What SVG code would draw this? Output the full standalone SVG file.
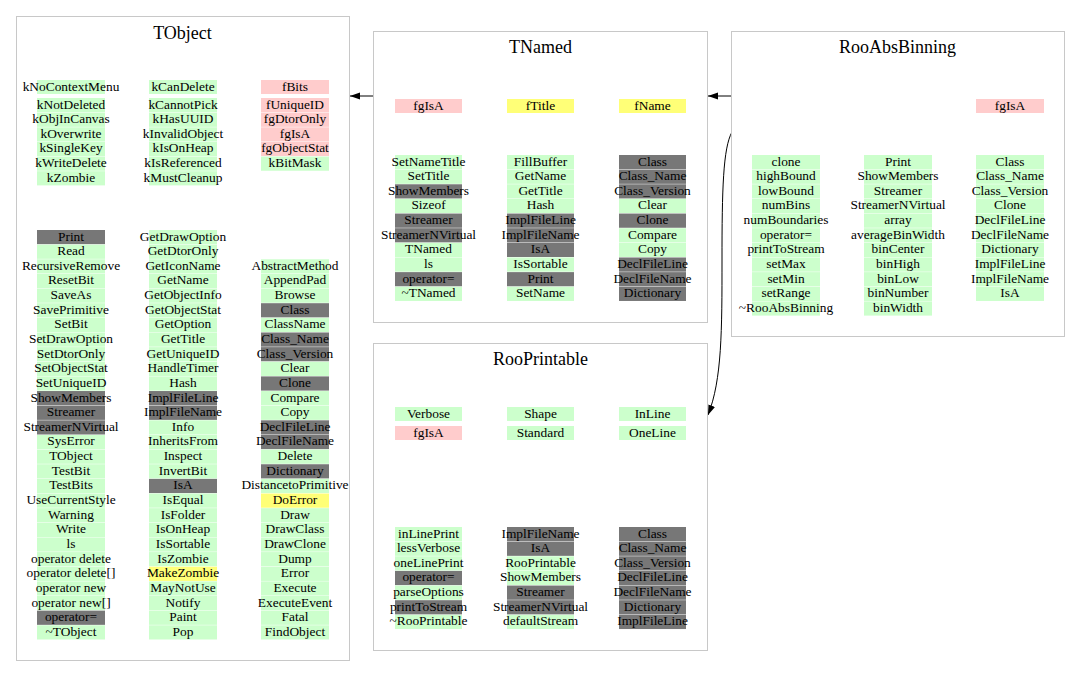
<svg xmlns="http://www.w3.org/2000/svg" width="1080" height="687" viewBox="0 0 1080 687">
<style>
.box{fill:#fff;stroke:#c8c8c8;stroke-width:1}
.g{fill:#ccffcc}.d{fill:#777777}.p{fill:#ffcccc}.y{fill:#ffff77}
text{font-family:"Liberation Serif","Times New Roman",serif;font-size:13.4px;fill:#000;text-anchor:middle}
.title{font-size:18px}
.edge{fill:none;stroke:#000;stroke-width:1}
</style>
<defs>
<marker id="ah" markerUnits="userSpaceOnUse" markerWidth="11" markerHeight="8" refX="10" refY="3.5" orient="auto">
<path d="M0,0 L10,3.5 L0,7 z" fill="#000"/>
</marker>
</defs>
<rect width="1080" height="687" fill="#fff"/>

<g id="connectors">
<line class="edge" x1="373" y1="96" x2="350" y2="96" marker-end="url(#ah)"/>
<line class="edge" x1="731" y1="96" x2="708" y2="96" marker-end="url(#ah)"/>
<path class="edge" d="M732,132 C723,148 722,190 722,260 C722,330 722,380 708,415" marker-end="url(#ah)"/>
</g>

<g id="TObject">
<rect class="box" x="16.5" y="16.5" width="333" height="644"/>
<text class="title" x="182.5" y="39">TObject</text>
<g transform="translate(37,80)">
<rect class="g" x="0" y="0" width="68" height="14"/><text x="34" y="11">kNoContextMenu</text>
<rect class="g" x="112" y="0" width="68" height="14"/><text x="146" y="11">kCanDelete</text>
<rect class="p" x="224" y="0" width="68" height="14"/><text x="258" y="11">fBits</text>
</g>
<g transform="translate(37,98)">
<rect class="g" x="0" y="0" width="68" height="14.2"/><text x="34" y="10.5">kNotDeleted</text>
<rect class="g" x="0" y="14.64" width="68" height="14.2"/><text x="34" y="25.14">kObjInCanvas</text>
<rect class="g" x="0" y="29.28" width="68" height="14.2"/><text x="34" y="39.78">kOverwrite</text>
<rect class="g" x="0" y="43.92" width="68" height="14.2"/><text x="34" y="54.42">kSingleKey</text>
<rect class="g" x="0" y="58.56" width="68" height="14.2"/><text x="34" y="69.06">kWriteDelete</text>
<rect class="g" x="0" y="73.2" width="68" height="14.2"/><text x="34" y="83.7">kZombie</text>
</g>
<g transform="translate(149,98)">
<rect class="g" x="0" y="0" width="68" height="14.2"/><text x="34" y="10.5">kCannotPick</text>
<rect class="g" x="0" y="14.64" width="68" height="14.2"/><text x="34" y="25.14">kHasUUID</text>
<rect class="g" x="0" y="29.28" width="68" height="14.2"/><text x="34" y="39.78">kInvalidObject</text>
<rect class="g" x="0" y="43.92" width="68" height="14.2"/><text x="34" y="54.42">kIsOnHeap</text>
<rect class="g" x="0" y="58.56" width="68" height="14.2"/><text x="34" y="69.06">kIsReferenced</text>
<rect class="g" x="0" y="73.2" width="68" height="14.2"/><text x="34" y="83.7">kMustCleanup</text>
</g>
<g transform="translate(261,98)">
<rect class="p" x="0" y="0" width="68" height="14.2"/><text x="34" y="10.5">fUniqueID</text>
<rect class="p" x="0" y="14.64" width="68" height="14.2"/><text x="34" y="25.14">fgDtorOnly</text>
<rect class="p" x="0" y="29.28" width="68" height="14.2"/><text x="34" y="39.78">fgIsA</text>
<rect class="p" x="0" y="43.92" width="68" height="14.2"/><text x="34" y="54.42">fgObjectStat</text>
<rect class="g" x="0" y="58.56" width="68" height="14.2"/><text x="34" y="69.06">kBitMask</text>
</g>
<g transform="translate(37,230)">
<rect class="d" x="0" y="0" width="68" height="14.2"/><text x="34" y="10.5">Print</text>
<rect class="g" x="0" y="14.64" width="68" height="14.2"/><text x="34" y="25.14">Read</text>
<rect class="g" x="0" y="29.28" width="68" height="14.2"/><text x="34" y="39.78">RecursiveRemove</text>
<rect class="g" x="0" y="43.92" width="68" height="14.2"/><text x="34" y="54.42">ResetBit</text>
<rect class="g" x="0" y="58.56" width="68" height="14.2"/><text x="34" y="69.06">SaveAs</text>
<rect class="g" x="0" y="73.2" width="68" height="14.2"/><text x="34" y="83.7">SavePrimitive</text>
<rect class="g" x="0" y="87.84" width="68" height="14.2"/><text x="34" y="98.34">SetBit</text>
<rect class="g" x="0" y="102.48" width="68" height="14.2"/><text x="34" y="112.98">SetDrawOption</text>
<rect class="g" x="0" y="117.12" width="68" height="14.2"/><text x="34" y="127.62">SetDtorOnly</text>
<rect class="g" x="0" y="131.76" width="68" height="14.2"/><text x="34" y="142.26">SetObjectStat</text>
<rect class="g" x="0" y="146.4" width="68" height="14.2"/><text x="34" y="156.9">SetUniqueID</text>
<rect class="d" x="0" y="161.04" width="68" height="14.2"/><text x="34" y="171.54">ShowMembers</text>
<rect class="d" x="0" y="175.68" width="68" height="14.2"/><text x="34" y="186.18">Streamer</text>
<rect class="d" x="0" y="190.32" width="68" height="14.2"/><text x="34" y="200.82">StreamerNVirtual</text>
<rect class="g" x="0" y="204.96" width="68" height="14.2"/><text x="34" y="215.46">SysError</text>
<rect class="g" x="0" y="219.6" width="68" height="14.2"/><text x="34" y="230.1">TObject</text>
<rect class="g" x="0" y="234.24" width="68" height="14.2"/><text x="34" y="244.74">TestBit</text>
<rect class="g" x="0" y="248.88" width="68" height="14.2"/><text x="34" y="259.38">TestBits</text>
<rect class="g" x="0" y="263.52" width="68" height="14.2"/><text x="34" y="274.02">UseCurrentStyle</text>
<rect class="g" x="0" y="278.16" width="68" height="14.2"/><text x="34" y="288.66">Warning</text>
<rect class="g" x="0" y="292.8" width="68" height="14.2"/><text x="34" y="303.3">Write</text>
<rect class="g" x="0" y="307.44" width="68" height="14.2"/><text x="34" y="317.94">ls</text>
<rect class="g" x="0" y="322.08" width="68" height="14.2"/><text x="34" y="332.58">operator delete</text>
<rect class="g" x="0" y="336.72" width="68" height="14.2"/><text x="34" y="347.22">operator delete[]</text>
<rect class="g" x="0" y="351.36" width="68" height="14.2"/><text x="34" y="361.86">operator new</text>
<rect class="g" x="0" y="366" width="68" height="14.2"/><text x="34" y="376.5">operator new[]</text>
<rect class="d" x="0" y="380.64" width="68" height="14.2"/><text x="34" y="391.14">operator=</text>
<rect class="g" x="0" y="395.28" width="68" height="14.2"/><text x="34" y="405.78">~TObject</text>
</g>
<g transform="translate(149,230)">
<rect class="g" x="0" y="0" width="68" height="14.2"/><text x="34" y="10.5">GetDrawOption</text>
<rect class="g" x="0" y="14.64" width="68" height="14.2"/><text x="34" y="25.14">GetDtorOnly</text>
<rect class="g" x="0" y="29.28" width="68" height="14.2"/><text x="34" y="39.78">GetIconName</text>
<rect class="g" x="0" y="43.92" width="68" height="14.2"/><text x="34" y="54.42">GetName</text>
<rect class="g" x="0" y="58.56" width="68" height="14.2"/><text x="34" y="69.06">GetObjectInfo</text>
<rect class="g" x="0" y="73.2" width="68" height="14.2"/><text x="34" y="83.7">GetObjectStat</text>
<rect class="g" x="0" y="87.84" width="68" height="14.2"/><text x="34" y="98.34">GetOption</text>
<rect class="g" x="0" y="102.48" width="68" height="14.2"/><text x="34" y="112.98">GetTitle</text>
<rect class="g" x="0" y="117.12" width="68" height="14.2"/><text x="34" y="127.62">GetUniqueID</text>
<rect class="g" x="0" y="131.76" width="68" height="14.2"/><text x="34" y="142.26">HandleTimer</text>
<rect class="g" x="0" y="146.4" width="68" height="14.2"/><text x="34" y="156.9">Hash</text>
<rect class="d" x="0" y="161.04" width="68" height="14.2"/><text x="34" y="171.54">ImplFileLine</text>
<rect class="d" x="0" y="175.68" width="68" height="14.2"/><text x="34" y="186.18">ImplFileName</text>
<rect class="g" x="0" y="190.32" width="68" height="14.2"/><text x="34" y="200.82">Info</text>
<rect class="g" x="0" y="204.96" width="68" height="14.2"/><text x="34" y="215.46">InheritsFrom</text>
<rect class="g" x="0" y="219.6" width="68" height="14.2"/><text x="34" y="230.1">Inspect</text>
<rect class="g" x="0" y="234.24" width="68" height="14.2"/><text x="34" y="244.74">InvertBit</text>
<rect class="d" x="0" y="248.88" width="68" height="14.2"/><text x="34" y="259.38">IsA</text>
<rect class="g" x="0" y="263.52" width="68" height="14.2"/><text x="34" y="274.02">IsEqual</text>
<rect class="g" x="0" y="278.16" width="68" height="14.2"/><text x="34" y="288.66">IsFolder</text>
<rect class="g" x="0" y="292.8" width="68" height="14.2"/><text x="34" y="303.3">IsOnHeap</text>
<rect class="g" x="0" y="307.44" width="68" height="14.2"/><text x="34" y="317.94">IsSortable</text>
<rect class="g" x="0" y="322.08" width="68" height="14.2"/><text x="34" y="332.58">IsZombie</text>
<rect class="y" x="0" y="336.72" width="68" height="14.2"/><text x="34" y="347.22">MakeZombie</text>
<rect class="g" x="0" y="351.36" width="68" height="14.2"/><text x="34" y="361.86">MayNotUse</text>
<rect class="g" x="0" y="366" width="68" height="14.2"/><text x="34" y="376.5">Notify</text>
<rect class="g" x="0" y="380.64" width="68" height="14.2"/><text x="34" y="391.14">Paint</text>
<rect class="g" x="0" y="395.28" width="68" height="14.2"/><text x="34" y="405.78">Pop</text>
</g>
<g transform="translate(261,230)">
<rect class="g" x="0" y="29.28" width="68" height="14.2"/><text x="34" y="39.78">AbstractMethod</text>
<rect class="g" x="0" y="43.92" width="68" height="14.2"/><text x="34" y="54.42">AppendPad</text>
<rect class="g" x="0" y="58.56" width="68" height="14.2"/><text x="34" y="69.06">Browse</text>
<rect class="d" x="0" y="73.2" width="68" height="14.2"/><text x="34" y="83.7">Class</text>
<rect class="g" x="0" y="87.84" width="68" height="14.2"/><text x="34" y="98.34">ClassName</text>
<rect class="d" x="0" y="102.48" width="68" height="14.2"/><text x="34" y="112.98">Class_Name</text>
<rect class="d" x="0" y="117.12" width="68" height="14.2"/><text x="34" y="127.62">Class_Version</text>
<rect class="g" x="0" y="131.76" width="68" height="14.2"/><text x="34" y="142.26">Clear</text>
<rect class="d" x="0" y="146.4" width="68" height="14.2"/><text x="34" y="156.9">Clone</text>
<rect class="g" x="0" y="161.04" width="68" height="14.2"/><text x="34" y="171.54">Compare</text>
<rect class="g" x="0" y="175.68" width="68" height="14.2"/><text x="34" y="186.18">Copy</text>
<rect class="d" x="0" y="190.32" width="68" height="14.2"/><text x="34" y="200.82">DeclFileLine</text>
<rect class="d" x="0" y="204.96" width="68" height="14.2"/><text x="34" y="215.46">DeclFileName</text>
<rect class="g" x="0" y="219.6" width="68" height="14.2"/><text x="34" y="230.1">Delete</text>
<rect class="d" x="0" y="234.24" width="68" height="14.2"/><text x="34" y="244.74">Dictionary</text>
<rect class="g" x="0" y="248.88" width="68" height="14.2"/><text x="34" y="259.38">DistancetoPrimitive</text>
<rect class="y" x="0" y="263.52" width="68" height="14.2"/><text x="34" y="274.02">DoError</text>
<rect class="g" x="0" y="278.16" width="68" height="14.2"/><text x="34" y="288.66">Draw</text>
<rect class="g" x="0" y="292.8" width="68" height="14.2"/><text x="34" y="303.3">DrawClass</text>
<rect class="g" x="0" y="307.44" width="68" height="14.2"/><text x="34" y="317.94">DrawClone</text>
<rect class="g" x="0" y="322.08" width="68" height="14.2"/><text x="34" y="332.58">Dump</text>
<rect class="g" x="0" y="336.72" width="68" height="14.2"/><text x="34" y="347.22">Error</text>
<rect class="g" x="0" y="351.36" width="68" height="14.2"/><text x="34" y="361.86">Execute</text>
<rect class="g" x="0" y="366" width="68" height="14.2"/><text x="34" y="376.5">ExecuteEvent</text>
<rect class="g" x="0" y="380.64" width="68" height="14.2"/><text x="34" y="391.14">Fatal</text>
<rect class="g" x="0" y="395.28" width="68" height="14.2"/><text x="34" y="405.78">FindObject</text>
</g>
</g>

<g id="TNamed">
<rect class="box" x="373.5" y="31.5" width="334" height="291"/>
<text class="title" x="540.5" y="53">TNamed</text>
<g transform="translate(395,99)">
<rect class="p" x="0" y="0" width="67" height="14"/><text x="33.5" y="11">fgIsA</text>
<rect class="y" x="112" y="0" width="67" height="14"/><text x="145.5" y="11">fTitle</text>
<rect class="y" x="224" y="0" width="67" height="14"/><text x="257.5" y="11">fName</text>
</g>
<g transform="translate(395,155)">
<rect class="g" x="0" y="0" width="67" height="14.2"/><text x="33.5" y="10.5">SetNameTitle</text>
<rect class="g" x="0" y="14.64" width="67" height="14.2"/><text x="33.5" y="25.14">SetTitle</text>
<rect class="d" x="0" y="29.28" width="67" height="14.2"/><text x="33.5" y="39.78">ShowMembers</text>
<rect class="g" x="0" y="43.92" width="67" height="14.2"/><text x="33.5" y="54.42">Sizeof</text>
<rect class="d" x="0" y="58.56" width="67" height="14.2"/><text x="33.5" y="69.06">Streamer</text>
<rect class="d" x="0" y="73.2" width="67" height="14.2"/><text x="33.5" y="83.7">StreamerNVirtual</text>
<rect class="g" x="0" y="87.84" width="67" height="14.2"/><text x="33.5" y="98.34">TNamed</text>
<rect class="g" x="0" y="102.48" width="67" height="14.2"/><text x="33.5" y="112.98">ls</text>
<rect class="d" x="0" y="117.12" width="67" height="14.2"/><text x="33.5" y="127.62">operator=</text>
<rect class="g" x="0" y="131.76" width="67" height="14.2"/><text x="33.5" y="142.26">~TNamed</text>
</g>
<g transform="translate(507,155)">
<rect class="g" x="0" y="0" width="67" height="14.2"/><text x="33.5" y="10.5">FillBuffer</text>
<rect class="g" x="0" y="14.64" width="67" height="14.2"/><text x="33.5" y="25.14">GetName</text>
<rect class="g" x="0" y="29.28" width="67" height="14.2"/><text x="33.5" y="39.78">GetTitle</text>
<rect class="g" x="0" y="43.92" width="67" height="14.2"/><text x="33.5" y="54.42">Hash</text>
<rect class="d" x="0" y="58.56" width="67" height="14.2"/><text x="33.5" y="69.06">ImplFileLine</text>
<rect class="d" x="0" y="73.2" width="67" height="14.2"/><text x="33.5" y="83.7">ImplFileName</text>
<rect class="d" x="0" y="87.84" width="67" height="14.2"/><text x="33.5" y="98.34">IsA</text>
<rect class="g" x="0" y="102.48" width="67" height="14.2"/><text x="33.5" y="112.98">IsSortable</text>
<rect class="d" x="0" y="117.12" width="67" height="14.2"/><text x="33.5" y="127.62">Print</text>
<rect class="g" x="0" y="131.76" width="67" height="14.2"/><text x="33.5" y="142.26">SetName</text>
</g>
<g transform="translate(619,155)">
<rect class="d" x="0" y="0" width="67" height="14.2"/><text x="33.5" y="10.5">Class</text>
<rect class="d" x="0" y="14.64" width="67" height="14.2"/><text x="33.5" y="25.14">Class_Name</text>
<rect class="d" x="0" y="29.28" width="67" height="14.2"/><text x="33.5" y="39.78">Class_Version</text>
<rect class="g" x="0" y="43.92" width="67" height="14.2"/><text x="33.5" y="54.42">Clear</text>
<rect class="d" x="0" y="58.56" width="67" height="14.2"/><text x="33.5" y="69.06">Clone</text>
<rect class="g" x="0" y="73.2" width="67" height="14.2"/><text x="33.5" y="83.7">Compare</text>
<rect class="g" x="0" y="87.84" width="67" height="14.2"/><text x="33.5" y="98.34">Copy</text>
<rect class="d" x="0" y="102.48" width="67" height="14.2"/><text x="33.5" y="112.98">DeclFileLine</text>
<rect class="d" x="0" y="117.12" width="67" height="14.2"/><text x="33.5" y="127.62">DeclFileName</text>
<rect class="d" x="0" y="131.76" width="67" height="14.2"/><text x="33.5" y="142.26">Dictionary</text>
</g>
</g>

<g id="RooAbsBinning">
<rect class="box" x="731.5" y="31.5" width="333" height="305"/>
<text class="title" x="897.5" y="53">RooAbsBinning</text>
<rect class="p" x="976" y="99" width="68" height="14"/><text x="1010" y="110">fgIsA</text>
<g transform="translate(752,155)">
<rect class="g" x="0" y="0" width="68" height="14.2"/><text x="34" y="10.5">clone</text>
<rect class="g" x="0" y="14.64" width="68" height="14.2"/><text x="34" y="25.14">highBound</text>
<rect class="g" x="0" y="29.28" width="68" height="14.2"/><text x="34" y="39.78">lowBound</text>
<rect class="g" x="0" y="43.92" width="68" height="14.2"/><text x="34" y="54.42">numBins</text>
<rect class="g" x="0" y="58.56" width="68" height="14.2"/><text x="34" y="69.06">numBoundaries</text>
<rect class="g" x="0" y="73.2" width="68" height="14.2"/><text x="34" y="83.7">operator=</text>
<rect class="g" x="0" y="87.84" width="68" height="14.2"/><text x="34" y="98.34">printToStream</text>
<rect class="g" x="0" y="102.48" width="68" height="14.2"/><text x="34" y="112.98">setMax</text>
<rect class="g" x="0" y="117.12" width="68" height="14.2"/><text x="34" y="127.62">setMin</text>
<rect class="g" x="0" y="131.76" width="68" height="14.2"/><text x="34" y="142.26">setRange</text>
<rect class="g" x="0" y="146.4" width="68" height="14.2"/><text x="34" y="156.9">~RooAbsBinning</text>
</g>
<g transform="translate(864,155)">
<rect class="g" x="0" y="0" width="68" height="14.2"/><text x="34" y="10.5">Print</text>
<rect class="g" x="0" y="14.64" width="68" height="14.2"/><text x="34" y="25.14">ShowMembers</text>
<rect class="g" x="0" y="29.28" width="68" height="14.2"/><text x="34" y="39.78">Streamer</text>
<rect class="g" x="0" y="43.92" width="68" height="14.2"/><text x="34" y="54.42">StreamerNVirtual</text>
<rect class="g" x="0" y="58.56" width="68" height="14.2"/><text x="34" y="69.06">array</text>
<rect class="g" x="0" y="73.2" width="68" height="14.2"/><text x="34" y="83.7">averageBinWidth</text>
<rect class="g" x="0" y="87.84" width="68" height="14.2"/><text x="34" y="98.34">binCenter</text>
<rect class="g" x="0" y="102.48" width="68" height="14.2"/><text x="34" y="112.98">binHigh</text>
<rect class="g" x="0" y="117.12" width="68" height="14.2"/><text x="34" y="127.62">binLow</text>
<rect class="g" x="0" y="131.76" width="68" height="14.2"/><text x="34" y="142.26">binNumber</text>
<rect class="g" x="0" y="146.4" width="68" height="14.2"/><text x="34" y="156.9">binWidth</text>
</g>
<g transform="translate(976,155)">
<rect class="g" x="0" y="0" width="68" height="14.2"/><text x="34" y="10.5">Class</text>
<rect class="g" x="0" y="14.64" width="68" height="14.2"/><text x="34" y="25.14">Class_Name</text>
<rect class="g" x="0" y="29.28" width="68" height="14.2"/><text x="34" y="39.78">Class_Version</text>
<rect class="g" x="0" y="43.92" width="68" height="14.2"/><text x="34" y="54.42">Clone</text>
<rect class="g" x="0" y="58.56" width="68" height="14.2"/><text x="34" y="69.06">DeclFileLine</text>
<rect class="g" x="0" y="73.2" width="68" height="14.2"/><text x="34" y="83.7">DeclFileName</text>
<rect class="g" x="0" y="87.84" width="68" height="14.2"/><text x="34" y="98.34">Dictionary</text>
<rect class="g" x="0" y="102.48" width="68" height="14.2"/><text x="34" y="112.98">ImplFileLine</text>
<rect class="g" x="0" y="117.12" width="68" height="14.2"/><text x="34" y="127.62">ImplFileName</text>
<rect class="g" x="0" y="131.76" width="68" height="14.2"/><text x="34" y="142.26">IsA</text>
</g>
</g>

<g id="RooPrintable">
<rect class="box" x="373.5" y="343.5" width="334" height="307"/>
<text class="title" x="540.5" y="365">RooPrintable</text>
<g transform="translate(395,407)">
<rect class="g" x="0" y="0" width="67" height="14"/><text x="33.5" y="11">Verbose</text>
<rect class="g" x="112" y="0" width="67" height="14"/><text x="145.5" y="11">Shape</text>
<rect class="g" x="224" y="0" width="67" height="14"/><text x="257.5" y="11">InLine</text>
<rect class="p" x="0" y="19" width="67" height="14"/><text x="33.5" y="30">fgIsA</text>
<rect class="g" x="112" y="19" width="67" height="14"/><text x="145.5" y="30">Standard</text>
<rect class="g" x="224" y="19" width="67" height="14"/><text x="257.5" y="30">OneLine</text>
</g>
<g transform="translate(395,527)">
<rect class="g" x="0" y="0" width="67" height="14.2"/><text x="33.5" y="10.5">inLinePrint</text>
<rect class="g" x="0" y="14.64" width="67" height="14.2"/><text x="33.5" y="25.14">lessVerbose</text>
<rect class="g" x="0" y="29.28" width="67" height="14.2"/><text x="33.5" y="39.78">oneLinePrint</text>
<rect class="d" x="0" y="43.92" width="67" height="14.2"/><text x="33.5" y="54.42">operator=</text>
<rect class="g" x="0" y="58.56" width="67" height="14.2"/><text x="33.5" y="69.06">parseOptions</text>
<rect class="d" x="0" y="73.2" width="67" height="14.2"/><text x="33.5" y="83.7">printToStream</text>
<rect class="g" x="0" y="87.84" width="67" height="14.2"/><text x="33.5" y="98.34">~RooPrintable</text>
</g>
<g transform="translate(507,527)">
<rect class="d" x="0" y="0" width="67" height="14.2"/><text x="33.5" y="10.5">ImplFileName</text>
<rect class="d" x="0" y="14.64" width="67" height="14.2"/><text x="33.5" y="25.14">IsA</text>
<rect class="g" x="0" y="29.28" width="67" height="14.2"/><text x="33.5" y="39.78">RooPrintable</text>
<rect class="g" x="0" y="43.92" width="67" height="14.2"/><text x="33.5" y="54.42">ShowMembers</text>
<rect class="d" x="0" y="58.56" width="67" height="14.2"/><text x="33.5" y="69.06">Streamer</text>
<rect class="d" x="0" y="73.2" width="67" height="14.2"/><text x="33.5" y="83.7">StreamerNVirtual</text>
<rect class="g" x="0" y="87.84" width="67" height="14.2"/><text x="33.5" y="98.34">defaultStream</text>
</g>
<g transform="translate(619,527)">
<rect class="d" x="0" y="0" width="67" height="14.2"/><text x="33.5" y="10.5">Class</text>
<rect class="d" x="0" y="14.64" width="67" height="14.2"/><text x="33.5" y="25.14">Class_Name</text>
<rect class="d" x="0" y="29.28" width="67" height="14.2"/><text x="33.5" y="39.78">Class_Version</text>
<rect class="d" x="0" y="43.92" width="67" height="14.2"/><text x="33.5" y="54.42">DeclFileLine</text>
<rect class="d" x="0" y="58.56" width="67" height="14.2"/><text x="33.5" y="69.06">DeclFileName</text>
<rect class="d" x="0" y="73.2" width="67" height="14.2"/><text x="33.5" y="83.7">Dictionary</text>
<rect class="d" x="0" y="87.84" width="67" height="14.2"/><text x="33.5" y="98.34">ImplFileLine</text>
</g>
</g>
</svg>
